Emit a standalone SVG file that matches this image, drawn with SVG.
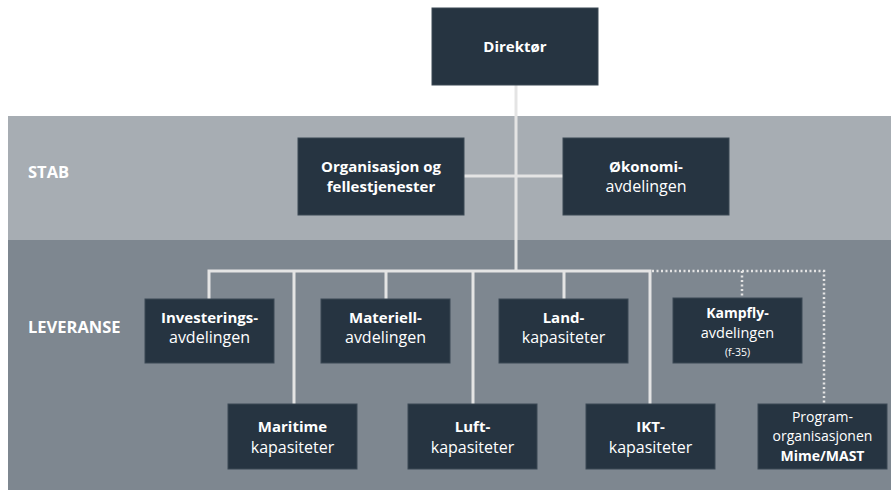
<svg xmlns="http://www.w3.org/2000/svg" width="891" height="490" viewBox="0 0 891 490">
<style>
.band-stab{fill:#a7adb3}
.band-lev{fill:#7e8790}
.node rect{fill:#263441;stroke:#3b4855;stroke-width:1}
text{font-family:"Open Sans","Lato","Liberation Sans",sans-serif;fill:#ffffff;text-anchor:middle;font-size:16px}
.b{font-weight:bold;font-size:15px}
.s{font-size:10.5px}
.p{font-size:14px}
.pb{font-weight:bold;font-size:14px}
.k{font-size:14.5px}
.band-label{text-anchor:start;font-weight:bold;font-size:16.5px}
.solid{stroke:#e4e4e4;stroke-width:3;fill:none}
.dot{stroke:#e4e4e4;stroke-width:2.5;fill:none;stroke-dasharray:2 2.5}
</style>
<rect x="0" y="0" width="891" height="490" fill="#ffffff"/>
<rect class="band-stab" x="8" y="116" width="883" height="124"/>
<rect class="band-lev" x="8" y="240" width="883" height="250"/>
<text class="band-label" x="28" y="178">STAB</text>
<text class="band-label" x="28" y="333">LEVERANSE</text>
<g id="connectors">
<path class="solid" d="M516 85V271"/>
<path class="solid" d="M464 176H563"/>
<path class="solid" d="M209 299V271H650V404"/>
<path class="solid" d="M294 271V404"/>
<path class="solid" d="M386 271V299"/>
<path class="solid" d="M473 271V404"/>
<path class="solid" d="M564 271V299"/>
<path class="dot" d="M652 271H824V404"/>
<path class="dot" d="M742 271V298"/>
</g>
<g id="direktor" class="node"><rect x="432" y="8" width="166" height="77"/><text class="b" x="515" y="52">Direktør</text></g>
<g id="organisasjon" class="node"><rect x="298" y="138" width="166" height="77"/><text class="b" x="381" y="172">Organisasjon og</text><text class="b" x="381" y="192">fellestjenester</text></g>
<g id="okonomi" class="node"><rect x="563" y="138" width="166" height="77"/><text class="b" x="646" y="172">Økonomi-</text><text x="646" y="192">avdelingen</text></g>
<g id="investering" class="node"><rect x="145" y="299" width="129" height="64"/><text class="b" x="209.5" y="323">Investerings-</text><text x="209.5" y="343">avdelingen</text></g>
<g id="materiell" class="node"><rect x="321" y="299" width="129" height="64"/><text class="b" x="385.5" y="323">Materiell-</text><text x="385.5" y="343">avdelingen</text></g>
<g id="land" class="node"><rect x="499" y="299" width="129" height="64"/><text class="b" x="563.5" y="323">Land-</text><text x="563.5" y="343">kapasiteter</text></g>
<g id="kampfly" class="node"><rect x="673" y="298" width="129" height="65"/><text class="pb" x="737.5" y="318">Kampfly-</text><text class="k" x="737.5" y="338">avdelingen</text><text class="s" x="737.5" y="356">(f-35)</text></g>
<g id="maritime" class="node"><rect x="228" y="404" width="129" height="65"/><text class="b" x="292.5" y="432">Maritime</text><text x="292.5" y="453">kapasiteter</text></g>
<g id="luft" class="node"><rect x="408" y="404" width="129" height="65"/><text class="b" x="472.5" y="432">Luft-</text><text x="472.5" y="453">kapasiteter</text></g>
<g id="ikt" class="node"><rect x="586" y="404" width="129" height="65"/><text class="b" x="650.5" y="432">IKT-</text><text x="650.5" y="453">kapasiteter</text></g>
<g id="program" class="node"><rect x="758" y="404" width="129" height="65"/><text class="p" x="822.5" y="422">Program-</text><text class="p" x="822.5" y="441">organisasjonen</text><text class="pb" x="822.5" y="461">Mime/MAST</text></g>
</svg>
